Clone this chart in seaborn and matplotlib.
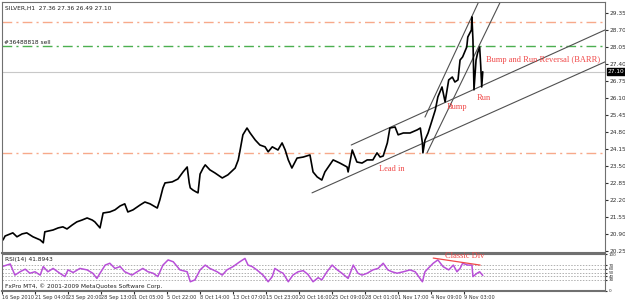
import matplotlib
matplotlib.use('Agg')
import numpy as np
import pandas as pd
import seaborn as sns
import matplotlib.pyplot as plt
import matplotlib.transforms as mtransforms

# price (H1 bars, bar index from the first visible bar)
price_bar = [2, 6, 21, 29, 39, 48, 60, 74, 80, 83, 99, 109, 118, 126, 136, 145, 155, 165, 175, 180,
             190, 196, 209, 219, 229, 238, 244, 254, 268, 277, 287, 301, 306, 312, 316, 330, 341, 351,
             359, 363, 365, 370, 376, 380, 384, 390, 394, 403, 413, 427, 438, 452, 458, 461, 467, 475,
             481, 491, 500, 510, 516, 524, 535, 543, 549, 555, 562, 572, 584, 597, 603, 611, 620, 626,
             642, 655, 669, 671, 679, 688, 698, 708, 719, 727, 733, 739, 747, 752, 762, 768, 778, 791,
             805, 811, 815, 816, 820, 826, 834, 840, 845, 853, 859, 866, 873, 878, 884, 888, 893, 901,
             903, 910, 911, 913, 915, 919, 922, 926, 928, 930, 932]
price_close = [20.67, 20.82, 20.94, 20.79, 20.90, 20.94, 20.79, 20.67, 20.56, 20.98, 21.05, 21.13,
               21.17, 21.09, 21.24, 21.36, 21.43, 21.51, 21.43, 21.36, 21.13, 21.70, 21.74, 21.82,
               21.97, 22.05, 21.74, 21.82, 22.01, 22.12, 22.05, 21.89, 22.20, 22.66, 22.85, 22.89,
               23.00, 23.27, 23.46, 22.85, 22.66, 22.58, 22.51, 22.47, 23.19, 23.42, 23.54, 23.35,
               23.23, 23.04, 23.16, 23.42, 23.73, 24.04, 24.69, 24.95, 24.76, 24.49, 24.30, 24.23,
               24.04, 24.23, 24.11, 24.38, 24.11, 23.73, 23.42, 23.80, 23.84, 23.92, 23.27, 23.08,
               22.96, 23.27, 23.73, 23.61, 23.46, 23.27, 24.11, 23.65, 23.61, 23.73, 23.73, 24.00,
               23.84, 23.88, 24.38, 24.95, 24.99, 24.69, 24.76, 24.76, 24.88, 24.95, 24.38, 24.00,
               24.49, 24.76, 25.26, 25.64, 26.14, 26.52, 25.95, 26.79, 26.90, 26.71, 26.79, 27.55,
               27.67, 28.05, 28.43, 28.70, 29.20, 28.32, 26.41, 27.55, 27.82, 28.05, 27.36, 26.52, 27.10]

# RSI(14)
rsi_bar = [0, 16, 25, 35, 45, 54, 64, 74, 80, 89, 99, 112, 122, 128, 138, 151, 165, 176, 184, 190,
           200, 209, 219, 229, 238, 252, 262, 273, 283, 293, 302, 312, 322, 332, 345, 359, 365, 374,
           384, 394, 403, 417, 427, 436, 448, 461, 471, 477, 485, 494, 506, 516, 524, 529, 539, 545,
           555, 564, 574, 584, 593, 603, 613, 620, 630, 640, 650, 659, 671, 681, 690, 698, 708, 719,
           729, 739, 748, 756, 766, 778, 791, 801, 815, 820, 826, 836, 845, 855, 866, 875, 882, 888,
           893, 903, 911, 913, 921, 926, 932]
rsi_val = [66, 73, 43, 52, 59, 48, 52, 43, 66, 52, 61, 48, 39, 57, 50, 61, 57, 48, 34, 48,
           70, 75, 61, 66, 52, 43, 52, 61, 52, 48, 39, 70, 84, 79, 57, 52, 25, 30,
           57, 70, 61, 52, 43, 57, 66, 79, 88, 70, 66, 57, 43, 25, 39, 61, 52, 48,
           25, 43, 52, 55, 45, 25, 36, 30, 52, 70, 57, 48, 34, 70, 48, 43, 48, 57,
           61, 75, 57, 52, 48, 52, 57, 52, 25, 52, 61, 75, 84, 66, 57, 70, 52, 61,
           75, 70, 70, 39, 48, 52, 42]
rsi_levels = [70, 60, 50, 40, 30]
rsi_ticks = [100, 70, 60, 50, 40, 30, 0]

# horizontal levels
level_orange = [29.0, 24.0]
level_green = 28.08
last_price = 27.10

# trend lines: (bar0, price0, bar1, price1)
trend_lines = [(601, 22.47, 1169, 27.48),
               (677, 24.30, 1169, 28.70),
               (820, 25.37, 923, 29.73),
               (824, 24.00, 966, 29.77)]
div_line = (836, 89, 927, 70)

price_ticks = [29.35, 28.70, 28.05, 27.40, 26.75, 26.10, 25.45, 24.80, 24.15,
               23.50, 22.85, 22.20, 21.55, 20.90, 20.25]
time_labels = ['16 Sep 2010', '21 Sep 04:00', '23 Sep 20:00', '28 Sep 13:00', '1 Oct 05:00',
               '5 Oct 22:00', '8 Oct 14:00', '13 Oct 07:00', '15 Oct 23:00', '20 Oct 16:00',
               '25 Oct 09:00', '28 Oct 01:00', '1 Nov 17:00', '4 Nov 09:00', '9 Nov 03:00']
time_ticks = [64 * i for i in range(len(time_labels))]

sns.set_style('white')
plt.rcParams['font.family'] = ['DejaVu Sans']

RED = '#f04848'
SERIF = ['Liberation Serif', 'DejaVu Serif']
DASHDOT = (0, (7, 3, 1.5, 3))
SMALL = 4.2

fig = plt.figure(figsize=(6.25, 3.01), dpi=100)
ax = fig.add_axes([2 / 625, 1 - 253 / 301, 603 / 625, 251 / 301])
ax_rsi = fig.add_axes([2 / 625, 1 - 291 / 301, 603 / 625, 37 / 301], sharex=ax)

price_df = pd.DataFrame({'bar': price_bar, 'close': price_close})
rsi_df = pd.DataFrame({'bar': rsi_bar, 'rsi': rsi_val})

# main price panel
for lv in level_orange:
    ax.axhline(lv, color='#f7a98a', lw=1, ls=DASHDOT)
ax.axhline(level_green, color='#4caf50', lw=1, ls=DASHDOT)
ax.axhline(last_price, color='#c8c8c8', lw=0.8)

for b0, p0, b1, p1 in trend_lines:
    ax.plot([b0, b1], [p0, p1], color='#505050', lw=0.8)

sns.lineplot(data=price_df, x='bar', y='close', ax=ax, color='black', lw=1.2)

ax.set_xlim(0, 1169)
ax.set_ylim(20.17, 29.77)
ax.set_yticks(price_ticks)
ax.set_yticklabels([f'{t:.2f}' for t in price_ticks])
ax.yaxis.tick_right()
ax.tick_params(axis='y', right=True, left=False, length=2, pad=1, labelsize=SMALL, colors='#303030')
ax.tick_params(axis='x', bottom=False, labelbottom=False)
ax.set_xlabel('')
ax.set_ylabel('')
for s in ax.spines.values():
    s.set_color('#707070')
    s.set_linewidth(0.8)
ax.spines['bottom'].set_linewidth(1.5)

trans = mtransforms.blended_transform_factory(ax.transAxes, ax.transData)
ax.text(1.005, last_price, f'{last_price:.2f}', transform=trans, fontsize=SMALL, color='white',
        va='center', ha='left', bbox=dict(boxstyle='square,pad=0.15', fc='black', ec='black'))

ax.text(0.005, 0.985, 'SILVER,H1  27.36 27.36 26.49 27.10', transform=ax.transAxes,
        fontsize=SMALL, va='top', ha='left', color='#202020')
ax.text(4, level_green + 0.06, '#36488818 sell', fontsize=SMALL, va='bottom', ha='left', color='#202020')

ax.text(938, 27.55, 'Bump and Run Reversal (BARR)', color=RED, fontsize=6.0, family=SERIF, va='center')
ax.text(863, 25.76, 'Bump', color=RED, fontsize=6.0, family=SERIF, va='center')
ax.text(921, 26.10, 'Run', color=RED, fontsize=6.0, family=SERIF, va='center')
ax.text(730, 23.38, 'Lead in', color=RED, fontsize=6.0, family=SERIF, va='center')

# RSI panel
for lv in rsi_levels:
    ax_rsi.axhline(lv, color='#b0b0b0', lw=0.7, ls=(0, (1.5, 1.5)))
sns.lineplot(data=rsi_df, x='bar', y='rsi', ax=ax_rsi, color='#b84fd8', lw=1.1)
ax_rsi.plot([div_line[0], div_line[2]], [div_line[1], div_line[3]], color=RED, lw=0.9)
ax_rsi.text(859, 95, 'Classic Div', color=RED, fontsize=6.0, family=SERIF, va='center')

ax_rsi.set_ylim(0, 100)
ax_rsi.set_yticks(rsi_ticks)
ax_rsi.set_yticklabels([str(t) for t in rsi_ticks])
ax_rsi.yaxis.tick_right()
ax_rsi.tick_params(axis='y', right=True, left=False, length=1.5, pad=1, labelsize=3, colors='#303030')
ax_rsi.set_xticks(time_ticks)
ax_rsi.set_xticklabels(time_labels, ha='left')
ax_rsi.tick_params(axis='x', bottom=True, length=2, pad=1, labelsize=3.6, colors='#303030')
ax_rsi.set_xlabel('')
ax_rsi.set_ylabel('')
for s in ax_rsi.spines.values():
    s.set_color('#707070')
    s.set_linewidth(0.8)
ax_rsi.spines['bottom'].set_linewidth(1.5)

ax_rsi.text(0.005, 0.93, 'RSI(14) 41.8943', transform=ax_rsi.transAxes, fontsize=SMALL,
            va='top', ha='left', color='#202020')
ax_rsi.text(0.005, 0.06, 'FxPro MT4, \u00a9 2001-2009 MetaQuotes Software Corp.', transform=ax_rsi.transAxes,
            fontsize=SMALL, va='bottom', ha='left', color='#202020')

fig.savefig('out.png', dpi=100)
